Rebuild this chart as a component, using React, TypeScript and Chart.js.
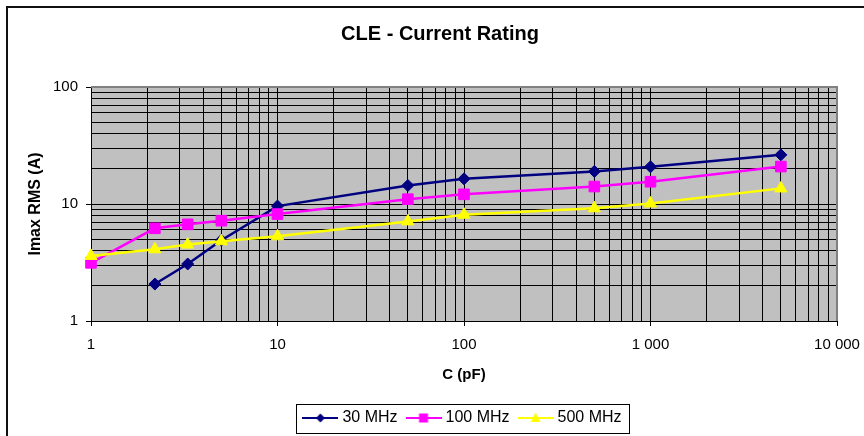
import React, { useEffect, useRef } from 'react';
import { Chart, registerables } from 'chart.js';

Chart.register(...registerables);

// ---------- data ----------
const TITLE = 'CLE - Current Rating';
const X_TITLE = 'C (pF)';
const Y_TITLE = 'Imax RMS (A)';
const SERIES_NAMES = ['30 MHz', '100 MHz', '500 MHz'];
const SERIES_COLORS = ['#000080', '#FF00FF', '#FFFF00'];
const CAPACITANCE = [1, 2.2, 3.3, 5, 10, 50, 100, 500, 1000, 5000];
const I_30MHZ = [null, 2.07, 3.07, 4.9, 9.6, 14.4, 16.4, 19.0, 20.8, 26.3];
const I_100MHZ = [3.14, 6.2, 6.7, 7.2, 8.2, 11.0, 12.1, 14.1, 15.5, 20.9];
const I_500MHZ = [3.6, 4.1, 4.5, 4.8, 5.3, 7.1, 8.1, 9.2, 10.1, 13.6];
const X_DECADES = [1, 10, 100, 1000, 10000];
const Y_DECADES = [1, 10, 100];
const MINOR_STEPS = [1, 2, 3, 4, 5, 6, 7, 8, 9];

const buildLogTicks = (decades: number[]) => {
  const out: number[] = [];
  decades.forEach((d, i) => {
    if (i < decades.length - 1) MINOR_STEPS.forEach((m) => out.push(m * d));
    else out.push(d);
  });
  return out;
};
const X_TICKS = buildLogTicks(X_DECADES);
const Y_TICKS = buildLogTicks(Y_DECADES);

const isDecade = (v: number) => {
  if (!(v > 0)) return false;
  const l = Math.log10(v);
  return Math.abs(l - Math.round(l)) < 1e-9;
};
const fmt = (v: number) => String(Math.round(v)).replace(/\B(?=(\d{3})+(?!\d))/g, ' ');

function makeIcon(color: string, kind: string) {
  const c = document.createElement('canvas');
  c.width = 36;
  c.height = 14;
  const g = c.getContext('2d')!;
  g.strokeStyle = color;
  g.fillStyle = color;
  g.lineWidth = 2;
  g.beginPath();
  g.moveTo(0, 7);
  g.lineTo(36, 7);
  g.stroke();
  g.beginPath();
  if (kind === 'diamond') {
    g.moveTo(18, 2.5);
    g.lineTo(22.5, 7);
    g.lineTo(18, 11.5);
    g.lineTo(13.5, 7);
  } else if (kind === 'square') {
    g.rect(13.5, 2.5, 9, 9);
  } else {
    g.moveTo(18, 1.5);
    g.lineTo(23, 11);
    g.lineTo(13, 11);
  }
  g.closePath();
  g.fill();
  return c;
}

const framePlugin = {
  id: 'frame',
  beforeDraw(chart: any) {
    const { ctx, chartArea: a } = chart;
    ctx.save();
    ctx.fillStyle = '#ffffff';
    ctx.fillRect(0, 0, chart.width, chart.height);
    ctx.fillStyle = '#C0C0C0';
    ctx.fillRect(a.left, a.top, a.right - a.left, a.bottom - a.top);
    ctx.strokeStyle = '#111';
    ctx.lineWidth = 2;
    ctx.strokeRect(7, 7, chart.width + 20, chart.height + 20);
    ctx.restore();
  },
  afterDraw(chart: any) {
    const { ctx, chartArea: a } = chart;
    ctx.save();
    ctx.strokeStyle = '#808080';
    ctx.lineWidth = 2;
    ctx.beginPath();
    ctx.moveTo(a.left, a.top);
    ctx.lineTo(a.right, a.top);
    ctx.lineTo(a.right, a.bottom);
    ctx.stroke();
    const hb = chart.legend && chart.legend.legendHitBoxes;
    if (hb && hb.length) {
      const first = hb[0];
      const last = hb[hb.length - 1];
      const cy = first.top + first.height / 2;
      const x0 = Math.round(first.left - 10);
      const x1 = Math.round(last.left + last.width + 7);
      const y0 = Math.round(cy - 14.5);
      ctx.strokeStyle = '#000';
      ctx.lineWidth = 1;
      ctx.strokeRect(x0 + 0.5, y0 + 0.5, x1 - x0, 29);
    }
    ctx.restore();
  },
};

export default function App() {
  const ref = useRef<HTMLCanvasElement>(null);

  useEffect(() => {
    document.body.style.margin = '0';
    const canvas = ref.current;
    if (!canvas) return;
    Chart.defaults.font.family = "'Liberation Sans', Arial, sans-serif";
    Chart.defaults.color = '#000';

    const kinds = ['diamond', 'square', 'triangle'];
    const icons = SERIES_COLORS.map((c, i) => makeIcon(c, kinds[i]));
    const seriesValues = [I_30MHZ, I_100MHZ, I_500MHZ];
    const pointStyles = ['rectRot', 'rect', 'triangle'];
    const radii = [6, 7.5, 7];

    const datasets = seriesValues.map((vals, s) => ({
      label: SERIES_NAMES[s],
      data: CAPACITANCE.map((c, i) => ({ x: c, y: vals[i] })),
      borderColor: SERIES_COLORS[s],
      backgroundColor: SERIES_COLORS[s],
      borderWidth: 2.5,
      pointStyle: pointStyles[s],
      pointRadius: radii[s],
      pointBorderWidth: 1,
      pointBorderColor: SERIES_COLORS[s],
      pointBackgroundColor: SERIES_COLORS[s],
      clip: false,
      order: 3 - s,
      tension: 0,
    }));

    const gridTickColor = (ctx: any) =>
      ctx.tick && isDecade(ctx.tick.value) ? '#000' : 'rgba(0,0,0,0)';

    const chart = new Chart(canvas, {
      type: 'line',
      data: { datasets: datasets as any },
      plugins: [framePlugin],
      options: {
        responsive: false,
        animation: false,
        events: [],
        layout: { padding: { top: 10, left: 20, right: 4, bottom: 0 } },
        plugins: {
          tooltip: { enabled: false },
          title: {
            display: true,
            text: TITLE,
            color: '#000',
            font: { size: 20, weight: 'bold' },
            padding: { top: 12, bottom: 41 },
          },
          legend: {
            display: true,
            position: 'bottom',
            fullSize: false,
            labels: {
              usePointStyle: true,
              pointStyleWidth: 28,
              padding: 12,
              color: '#000',
              font: { size: 16 },
              generateLabels: (ch: any) =>
                ch.data.datasets.map((d: any, i: number) => ({
                  text: d.label,
                  fillStyle: 'rgba(0,0,0,0)',
                  strokeStyle: 'rgba(0,0,0,0)',
                  lineWidth: 0,
                  pointStyle: icons[i],
                  hidden: false,
                  datasetIndex: i,
                  fontColor: '#000',
                })),
            },
          },
        },
        scales: {
          x: {
            type: 'logarithmic',
            position: 'bottom',
            min: 1,
            max: 10000,
            afterBuildTicks: (s: any) => {
              s.ticks = X_TICKS.map((v) => ({ value: v, major: isDecade(v) }));
            },
            afterFit: (s: any) => {
              s.height = 77;
              s.paddingRight = 27;
              s.paddingLeft = 0;
            },
            ticks: {
              autoSkip: false,
              maxRotation: 0,
              minRotation: 0,
              padding: 10,
              color: '#000',
              font: { size: 15 },
              callback: (v: any) => (isDecade(Number(v)) ? fmt(Number(v)) : ''),
            },
            grid: {
              color: '#000',
              lineWidth: 1,
              tickLength: 5,
              tickColor: gridTickColor,
            },
            border: { color: '#000', width: 1 },
            title: {
              display: true,
              text: X_TITLE,
              color: '#000',
              font: { size: 15, weight: 'bold' },
              padding: { top: 0, bottom: 14 },
            },
          },
          y: {
            type: 'logarithmic',
            position: 'left',
            min: 1,
            max: 100,
            afterBuildTicks: (s: any) => {
              s.ticks = Y_TICKS.map((v) => ({ value: v, major: isDecade(v) }));
            },
            afterFit: (s: any) => {
              s.width = 71;
            },
            ticks: {
              autoSkip: false,
              padding: 8,
              color: '#000',
              font: { size: 15 },
              callback: (v: any) => (isDecade(Number(v)) ? fmt(Number(v)) : ''),
            },
            grid: {
              color: '#000',
              lineWidth: 1,
              tickLength: 5,
              tickColor: gridTickColor,
            },
            border: { color: '#000', width: 1 },
            title: {
              display: true,
              text: Y_TITLE,
              color: '#000',
              font: { size: 16, weight: 'bold' },
              padding: { top: 6.4, bottom: 0 },
            },
          },
        },
      } as any,
    });

    return () => chart.destroy();
  }, []);

  return (
    <div style={{ width: 864, height: 436 }}>
      <canvas ref={ref} width={864} height={436} style={{ display: 'block' }} />
    </div>
  );
}
